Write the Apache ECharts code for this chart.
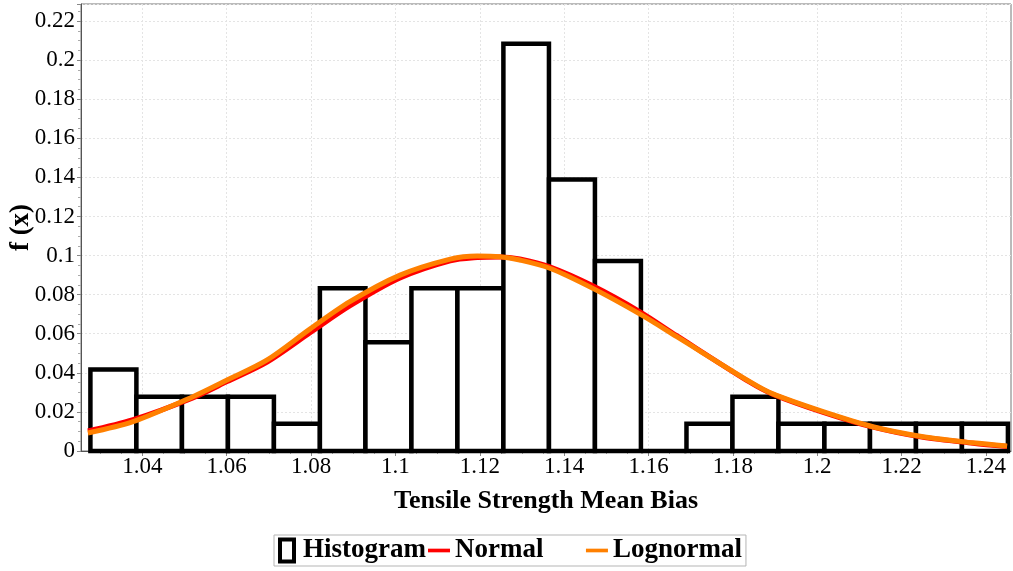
<!DOCTYPE html>
<html>
<head>
<meta charset="utf-8">
<title>Tensile Strength Mean Bias</title>
<script src="https://cdn.jsdelivr.net/npm/echarts@6/dist/echarts.min.js"></script>
<style>
  html, body { margin: 0; padding: 0; background: #fff; }
  #chart { width: 1013px; height: 571px; }
</style>
</head>
<body>
<div id="chart"></div>
<script>
// Histogram bins (edges) and relative frequencies
const binEdges = [1.0277, 1.0386, 1.0494, 1.0603, 1.0712, 1.0821, 1.0929, 1.1038, 1.1147, 1.1256,
                  1.1364, 1.1473, 1.1582, 1.1690, 1.1799, 1.1908, 1.2017, 1.2125, 1.2234, 1.2343, 1.2452];
const histFreq = [0.0417, 0.0278, 0.0278, 0.0278, 0.0139, 0.0833, 0.0556, 0.0833, 0.0833, 0.2083,
                  0.1389, 0.0972, 0.0, 0.0139, 0.0278, 0.0139, 0.0139, 0.0139, 0.0139, 0.0139];

// Fitted density curves (scaled to bin width)
const curveX = [1.0271, 1.0378, 1.0520, 1.0601, 1.0696, 1.0798, 1.0892, 1.1011, 1.1130, 1.1194, 1.1248, 1.1295,
                1.1366, 1.1468, 1.1580, 1.1667, 1.1840, 1.1895, 1.2014, 1.2132, 1.2251, 1.2369, 1.2450];
const normalPdf = [0.0102, 0.0160, 0.0272, 0.0355, 0.0455, 0.0605, 0.0742, 0.0885, 0.0973, 0.0990, 0.0993, 0.0982,
                   0.0942, 0.0845, 0.0712, 0.0590, 0.0352, 0.0290, 0.0198, 0.0122, 0.0070, 0.0040, 0.0023];
const lognormalPdf = [0.0092, 0.0150, 0.0278, 0.0363, 0.0466, 0.0625, 0.0764, 0.0900, 0.0982, 0.0998, 0.0994, 0.0977,
                      0.0935, 0.0832, 0.0700, 0.0585, 0.0355, 0.0292, 0.0201, 0.0124, 0.0073, 0.0042, 0.0026];

// Axis ticks
const xMajorTicks = [1.04, 1.06, 1.08, 1.10, 1.12, 1.14, 1.16, 1.18, 1.20, 1.22, 1.24];
const xMinorTicks = [1.03, 1.035, 1.045, 1.05, 1.055, 1.065, 1.07, 1.075, 1.085, 1.09, 1.095,
                     1.105, 1.11, 1.115, 1.125, 1.13, 1.135, 1.145, 1.15, 1.155, 1.165, 1.17, 1.175,
                     1.185, 1.19, 1.195, 1.205, 1.21, 1.215, 1.225, 1.23, 1.235, 1.245];

const X_MIN = 1.02547, X_MAX = 1.24593;
const SERIF = '"Liberation Serif", "Times New Roman", serif';

const chart = echarts.init(document.getElementById('chart'));

const histData = histFreq.map((f, i) => [binEdges[i], binEdges[i + 1], f]);
const fmt = v => String(parseFloat(Number(v).toFixed(4)));

chart.setOption({
  animation: false,
  backgroundColor: '#fff',
  grid: {
    left: 81, right: 2, top: 4, bottom: 120,
    outerBoundsMode: 'none', containLabel: false,
    show: true, borderColor: '#777', borderWidth: 1, backgroundColor: 'transparent'
  },
  legend: {
    left: 274, top: 535,
    padding: [2, 4, 2, 4],
    borderColor: '#b5b5b5', borderWidth: 1,
    itemGap: 2,
    itemWidth: 22, itemHeight: 26,
    textStyle: { fontFamily: SERIF, fontWeight: 'bold', fontSize: 27, color: '#000' },
    formatter: name => (name === 'Normal' ? name + '      ' : name),
    data: [
      { name: 'Histogram', icon: 'path://M0,0H18V26H0Z M4,4V22H14V4Z', itemStyle: { color: '#000', borderWidth: 0 } },
      { name: 'Normal', icon: 'path://M0,0H24V4H0Z', itemStyle: { borderWidth: 0 } },
      { name: 'Lognormal', icon: 'path://M0,0H24V4H0Z', itemStyle: { borderWidth: 0 } }
    ]
  },
  xAxis: [
    {
      type: 'value', min: X_MIN, max: X_MAX,
      name: 'Tensile Strength Mean Bias', nameLocation: 'middle', nameGap: 37,
      nameTextStyle: { fontFamily: SERIF, fontWeight: 'bold', fontSize: 26, color: '#000' },
      axisLine: { show: true, onZero: false, lineStyle: { color: '#555', width: 1 } },
      axisTick: { show: true, inside: false, length: 5, customValues: xMajorTicks, lineStyle: { color: '#888' } },
      axisLabel: { customValues: xMajorTicks, margin: 4, fontFamily: SERIF, fontSize: 23, color: '#000', formatter: fmt },
      splitLine: { show: true, lineStyle: { color: '#e4e4e4', type: [2, 2], width: 1 } }
    },
    {
      type: 'value', min: X_MIN, max: X_MAX, position: 'bottom',
      axisLine: { show: false },
      axisTick: { show: true, length: 3, customValues: xMinorTicks, lineStyle: { color: '#aaa' } },
      axisLabel: { show: false },
      splitLine: { show: false }
    }
  ],
  yAxis: {
    type: 'value', min: 0, max: 0.2287, interval: 0.02,
    name: 'f (x)', nameLocation: 'middle', nameGap: 46, nameRotate: 90, nameMoveOverlap: false,
    nameTextStyle: { fontFamily: SERIF, fontWeight: 'bold', fontSize: 27, color: '#000' },
    axisLine: { show: true, lineStyle: { color: '#555', width: 1 } },
    axisTick: { show: true, length: 4, lineStyle: { color: '#888' } },
    minorTick: { show: true, splitNumber: 4, length: 3, lineStyle: { color: '#aaa' } },
    axisLabel: { margin: 6, fontFamily: SERIF, fontSize: 23, color: '#000', formatter: fmt },
    splitLine: { show: true, lineStyle: { color: '#e4e4e4', type: [2, 2], width: 1 } }
  },
  series: [
    {
      name: 'Histogram', type: 'custom', xAxisIndex: 0,
      itemStyle: { color: '#000' },
      encode: { x: [0, 1], y: 2 },
      data: histData,
      renderItem: function (params, api) {
        const p0 = api.coord([api.value(0), api.value(2)]);
        const p1 = api.coord([api.value(1), 0]);
        return {
          type: 'rect',
          shape: { x: p0[0], y: p0[1], width: p1[0] - p0[0], height: p1[1] - p0[1] },
          style: { fill: '#fff', stroke: '#000', lineWidth: 4.5 }
        };
      },
      z: 2
    },
    {
      name: 'Normal', type: 'line', xAxisIndex: 0,
      data: curveX.map((x, i) => [x, normalPdf[i]]),
      showSymbol: false, symbol: 'none', smooth: 0.3,
      itemStyle: { color: '#ff0000' },
      lineStyle: { color: '#ff0000', width: 5 },
      z: 3
    },
    {
      name: 'Lognormal', type: 'line', xAxisIndex: 0,
      data: curveX.map((x, i) => [x, lognormalPdf[i]]),
      showSymbol: false, symbol: 'none', smooth: 0.3,
      itemStyle: { color: '#ff8000' },
      lineStyle: { color: '#ff8000', width: 5 },
      z: 4
    }
  ]
});
</script>
</body>
</html>
